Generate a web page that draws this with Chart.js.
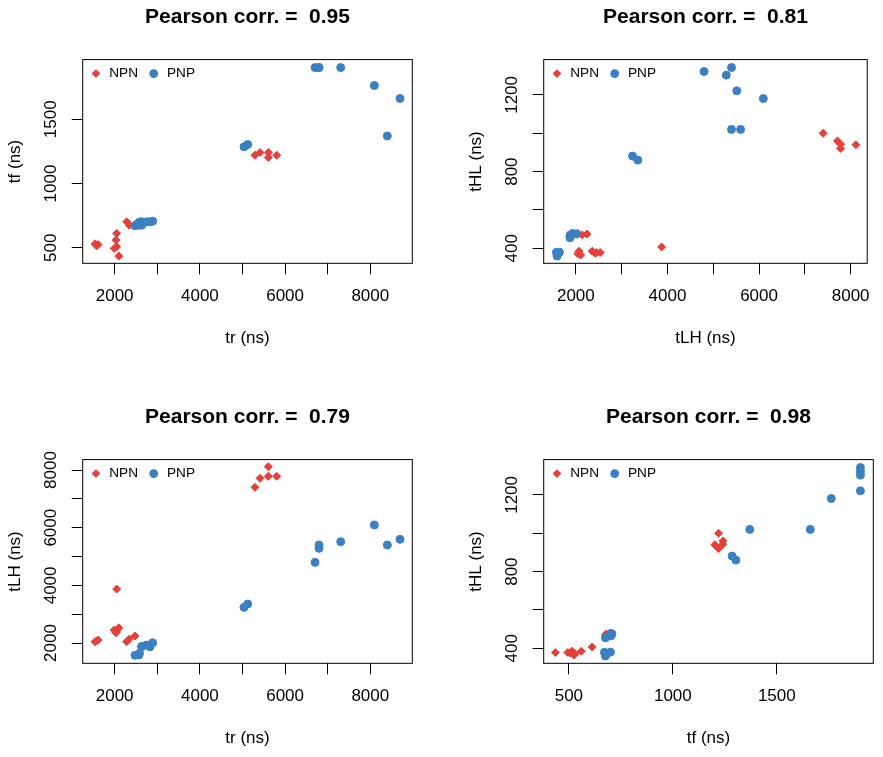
<!DOCTYPE html>
<html><head><meta charset="utf-8">
<script src="https://cdn.jsdelivr.net/npm/chart.js@4.4.1/dist/chart.umd.min.js"></script>
<style>
html,body{margin:0;padding:0;background:#fff;overflow:hidden;width:883px;height:757px;}
canvas{position:absolute;}
</style></head><body>
<canvas id="c1" width="421" height="357" style="left:0px;top:0px"></canvas>
<canvas id="c2" width="421" height="357" style="left:461px;top:0px"></canvas>
<canvas id="c3" width="421" height="357" style="left:0px;top:400px"></canvas>
<canvas id="c4" width="421" height="357" style="left:461px;top:400px"></canvas>
<script>
// ---- data (ns) ----
const npnTr  = [1540, 1575, 1610, 1990, 2030, 2047, 2100, 2047, 2282, 2343, 2477, 5293, 5411, 5606, 5606, 5803];
const npnTf  = [ 530,  515,  525,  495,  560,  508,  435,  612,  702,  676,  680, 1220, 1241, 1202, 1241, 1220];
const npnTLH = [2045, 2070, 2104, 2451, 2357, 2420, 2531, 3873, 2045, 2139, 2243, 7400, 7712, 8115, 7782, 7782];
const npnTHL = [ 372,  385,  365,  378,  385,  375,  378,  407,  478,  470,  475, 1000,  960,  940,  943,  921];

const pnpTr  = [2477, 2570, 2580, 2634, 2634, 2751, 2829, 2892, 5035, 5122, 6702, 6796, 6796, 7305, 8094, 8399, 8697];
const pnpTf  = [ 671,  676,  700,  676,  702,  702,  702,  707, 1285, 1303, 1902, 1902, 1902, 1902, 1762, 1370, 1661];
const pnpTLH = [1575, 1590, 1640, 1872, 1880, 1930, 1872, 2010, 3238, 3353, 4799, 5284, 5399, 5514, 6093, 5399, 5597];
const pnpTHL = [ 379,  360,  380,  455,  470,  478,  465,  475,  881,  860, 1322, 1303, 1343, 1221, 1181, 1020, 1020];

const seriesNames = ['NPN', 'PNP'];
const corrValues = ['0.95', '0.81', '0.79', '0.98'];

// tick values and tick labels (R drops overlapping labels)
const trTicks  = [2000, 3000, 4000, 5000, 6000, 7000, 8000];
const trLabels = ['2000', '', '4000', '', '6000', '', '8000'];
const tLHTicks  = [2000, 3000, 4000, 5000, 6000, 7000, 8000];
const tLHLabels = ['2000', '', '4000', '', '6000', '', '8000'];
const tfTicks  = [500, 1000, 1500];
const tfLabels = ['500', '1000', '1500'];
const tHLTicks  = [400, 600, 800, 1000, 1200];
const tHLLabels = ['400', '', '800', '', '1200'];

// ---- style ----
const FAMILY = "'Liberation Sans', Arial, Helvetica, sans-serif";
const RED = '#E5413A';
const BLUE = '#3B80C2';
Chart.defaults.font.family = FAMILY;
Chart.defaults.color = '#000';

const axes = {
  tr:  {title: 'tr (ns)',  min: 1250, max: 8985, ticks: trTicks,  labels: trLabels},
  tf:  {title: 'tf (ns)',  min: 379,  max: 1964, ticks: tfTicks,  labels: tfLabels},
  tLH: {title: 'tLH (ns)', min: 1298, max: 8362, ticks: tLHTicks, labels: tLHLabels},
  tHL: {title: 'tHL (ns)', min: 322,  max: 1384, ticks: tHLTicks, labels: tHLLabels}
};
const vals = {
  tr:  [npnTr, pnpTr],
  tf:  [npnTf, pnpTf],
  tLH: [npnTLH, pnpTLH],
  tHL: [npnTHL, pnpTHL]
};

function pts(xs, ys) { return xs.map((x, i) => ({x: x, y: ys[i]})); }

function drawMarker(ctx, style, x, y, r) {
  ctx.beginPath();
  if (style === 'rectRot') {
    ctx.moveTo(x, y - r); ctx.lineTo(x + r, y); ctx.lineTo(x, y + r); ctx.lineTo(x - r, y);
    ctx.closePath();
  } else {
    ctx.arc(x, y, r, 0, Math.PI * 2);
  }
  ctx.fill();
}

const boxPlugin = {
  id: 'rbox',
  afterDatasetsDraw(chart) {
    const {ctx, chartArea: a} = chart;
    ctx.save();
    ctx.strokeStyle = '#000';
    ctx.lineWidth = 1;
    ctx.strokeRect(a.left, a.top, a.right - a.left, a.bottom - a.top);
    ctx.restore();
  }
};

const insetLegend = {
  id: 'insetLegend',
  afterDatasetsDraw(chart) {
    const {ctx, chartArea: a} = chart;
    ctx.save();
    ctx.font = '13.6px ' + FAMILY;
    ctx.textBaseline = 'middle';
    ctx.textAlign = 'left';
    let x = a.left + 13.3;
    const y = a.top + 14;
    chart.data.datasets.forEach(ds => {
      ctx.fillStyle = ds.backgroundColor;
      drawMarker(ctx, ds.pointStyle, x, y, 4.4);
      ctx.fillStyle = '#000';
      ctx.fillText(ds.label, x + 13.3, y);
      x += 13.3 + ctx.measureText(ds.label).width + 15.7;
    });
    ctx.restore();
  }
};

function scaleCfg(key, isX) {
  const ax = axes[key];
  const cfg = {
    type: 'linear',
    position: isX ? 'bottom' : 'left',
    min: ax.min, max: ax.max,
    border: {display: false},
    grid: {display: true, drawOnChartArea: false, drawTicks: true, tickLength: 11, color: '#000', lineWidth: 1},
    afterBuildTicks: s => { s.ticks = ax.ticks.map(v => ({value: v})); },
    ticks: {
      autoSkip: false,
      color: '#000',
      font: {size: 17, family: FAMILY},
      callback: v => { const i = ax.ticks.indexOf(v); return i >= 0 ? ax.labels[i] : ''; }
    },
    title: {display: true, text: ax.title, color: '#000', font: {size: 17, family: FAMILY}}
  };
  if (isX) {
    cfg.ticks.padding = 11.7;
    cfg.ticks.maxRotation = 0; cfg.ticks.minRotation = 0;
    cfg.title.padding = {top: 0, bottom: 8.8};
    cfg.afterFit = s => { s.height = 93.7; };
  } else {
    cfg.ticks.padding = 1.5;
    cfg.ticks.minRotation = 90; cfg.ticks.maxRotation = 90;
    cfg.ticks.crossAlign = 'center';
    cfg.title.padding = {top: 4.8, bottom: 0};
    cfg.afterFit = s => { s.width = 82.7; };
  }
  return cfg;
}

function makePanel(id, corr, xKey, yKey) {
  const styles = ['rectRot', 'circle'];
  const colors = [RED, BLUE];
  const datasets = seriesNames.map((name, k) => ({
    label: name,
    data: pts(vals[xKey][k], vals[yKey][k]),
    pointStyle: styles[k],
    pointRadius: 4,
    pointBorderWidth: 1,
    backgroundColor: colors[k],
    borderColor: colors[k],
    order: k === 0 ? 1 : 0
  }));
  new Chart(document.getElementById(id), {
    type: 'scatter',
    data: {datasets: datasets},
    options: {
      responsive: false,
      animation: false,
      events: [],
      layout: {padding: {left: 0, right: 8.7, top: 0, bottom: 0}},
      plugins: {
        legend: {display: false},
        tooltip: {enabled: false},
        title: {
          display: true,
          text: 'Pearson corr. =  ' + corr,
          fullSize: false,
          color: '#000',
          font: {size: 21, weight: 'bold', family: FAMILY},
          padding: {top: 4.4, bottom: 30}
        }
      },
      scales: {x: scaleCfg(xKey, true), y: scaleCfg(yKey, false)}
    },
    plugins: [boxPlugin, insetLegend]
  });
}

makePanel('c1', corrValues[0], 'tr', 'tf');
makePanel('c2', corrValues[1], 'tLH', 'tHL');
makePanel('c3', corrValues[2], 'tr', 'tLH');
makePanel('c4', corrValues[3], 'tf', 'tHL');
</script>
</body></html>
